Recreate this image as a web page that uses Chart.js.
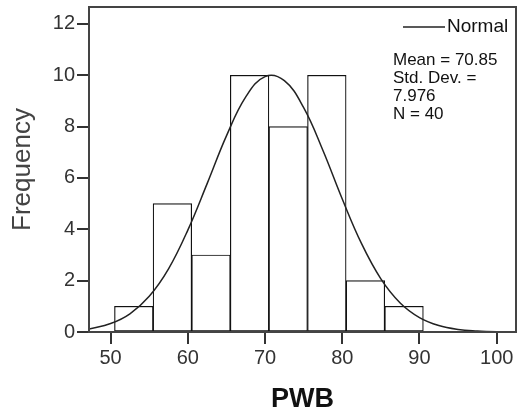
<!DOCTYPE html>
<html>
<head>
<meta charset="utf-8">
<script src="https://cdn.jsdelivr.net/npm/chart.js@4"></script>
<style>
  html, body { margin: 0; padding: 0; background: #fff; }
  #wrap { width: 518px; height: 414px; }
</style>
</head>
<body>
<div id="wrap"><canvas id="hist"></canvas></div>
<script>
// histogram bins (centres of 5-wide bins) and counts
const binCenters = [53, 58, 63, 68, 73, 78, 83, 88];
const counts = [1, 5, 3, 10, 8, 10, 2, 1];

// normal curve
const curveX = [47.2, 50, 52.5, 55, 57.5, 60, 62.5, 65, 67.5, 70, 72.5, 75, 77.5, 80, 82.5, 85, 87.5, 90, 92.5, 95, 97.5, 100, 102.5];
const curveY = [0.12, 0.33, 0.71, 1.39, 2.46, 3.97, 5.78, 7.64, 9.16, 9.95, 9.79, 8.74, 7.07, 5.18, 3.44, 2.07, 1.13, 0.56, 0.25, 0.10, 0.04, 0.01, 0.0];

const xTicks = [50, 60, 70, 80, 90, 100];
const yTicks = [0, 2, 4, 6, 8, 10, 12];
const statsLines = ['Mean = 70.85', 'Std. Dev. =', '7.976', 'N = 40'];

const FONT = 'Arial, "Liberation Sans", sans-serif';

// frame round the plot, legend line and the stats text
const frame = {
    id: 'frame',
    afterDraw(chart) {
        const {ctx, chartArea: a} = chart;
        ctx.save();
        ctx.strokeStyle = '#444';
        ctx.lineWidth = 2;
        ctx.strokeRect(a.left, a.top, a.right - a.left, a.bottom - a.top);

        ctx.strokeStyle = '#222';
        ctx.lineWidth = 1.5;
        ctx.beginPath();
        ctx.moveTo(403, 27);
        ctx.lineTo(445, 27);
        ctx.stroke();

        ctx.fillStyle = '#111';
        ctx.textBaseline = 'middle';
        ctx.font = '19px ' + FONT;
        ctx.fillText(chart.data.datasets[0].label, 447, 27);
        ctx.font = '17px ' + FONT;
        statsLines.forEach((s, i) => ctx.fillText(s, 393, 60 + i * 18));
        ctx.restore();
    }
};

new Chart(document.getElementById('hist'), {
    type: 'bar',
    data: {
        datasets: [{
            type: 'line',
            label: 'Normal',
            data: curveX.map((x, i) => ({x: x, y: curveY[i]})),
            borderColor: '#222',
            borderWidth: 1.5,
            pointRadius: 0,
            tension: 0.4,
            fill: false
        }, {
            label: 'PWB',
            data: binCenters.map((x, i) => ({x: x, y: counts[i]})),
            backgroundColor: '#fff',
            borderColor: '#111',
            borderWidth: 1.2,
            borderSkipped: false,
            categoryPercentage: 1,
            barPercentage: 1
        }]
    },
    options: {
        responsive: true,
        maintainAspectRatio: false,
        animation: false,
        layout: { padding: { top: 7, right: 2, left: 0, bottom: 0 } },
        plugins: {
            legend: { display: false },
            tooltip: { enabled: false }
        },
        scales: {
            x: {
                type: 'linear',
                offset: false,
                min: 47.2,
                max: 102.5,
                afterFit: s => { s.height = 82; s.paddingLeft = 0; s.paddingRight = 0; },
                afterBuildTicks: s => { s.ticks = xTicks.map(v => ({value: v})); },
                grid: { offset: false, drawOnChartArea: false, tickLength: 12, color: '#333', lineWidth: 2 },
                border: { display: false },
                ticks: { color: '#333', padding: 2, font: { family: FONT, size: 20 } },
                title: {
                    display: true,
                    text: 'PWB',
                    color: '#111',
                    font: { family: FONT, size: 27, weight: 'bold', lineHeight: 1 },
                    padding: { top: 0, bottom: 1 }
                }
            },
            y: {
                min: 0,
                max: 12.66,
                afterFit: s => { s.width = 89; s.paddingTop = 0; s.paddingBottom = 0; },
                afterBuildTicks: s => { s.ticks = yTicks.map(v => ({value: v})); },
                grid: { drawOnChartArea: false, tickLength: 12, color: '#333', lineWidth: 2 },
                border: { display: false },
                ticks: { color: '#333', padding: 2, font: { family: FONT, size: 20 } },
                title: {
                    display: true,
                    text: 'Frequency',
                    color: '#444',
                    font: { family: FONT, size: 26, lineHeight: 1 },
                    padding: { top: 10, bottom: 0 }
                }
            }
        }
    },
    plugins: [frame]
});
</script>
</body>
</html>
